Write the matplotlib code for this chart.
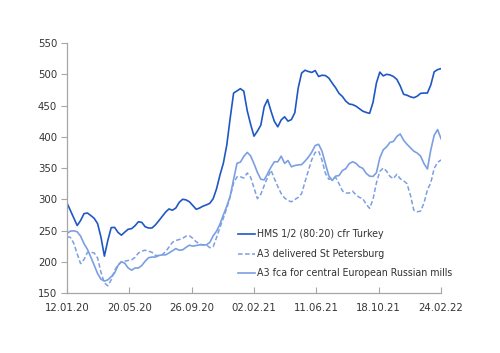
import pandas as pd
import matplotlib.pyplot as plt
import matplotlib.dates as mdates

# roughly weekly observations, 12.01.20 .. 24.02.22
dates = pd.date_range("2020-01-12", "2022-02-24", periods=111)

hms_turkey = [
    294, 282, 270, 258, 266, 277, 278, 274, 269.5, 261,
    239, 209, 234, 254.6, 255, 247, 242.5, 247.5, 252, 253,
    257.6, 264, 263, 256, 254, 254, 259, 265.6, 272.5, 279.5,
    284.5, 282.5, 286, 295, 300, 299, 296, 290, 284, 286,
    289, 291, 293.5, 301, 317, 339, 358, 387, 430, 470,
    473.5, 477, 473, 442, 420, 401, 409, 418.6, 448, 459.5,
    441, 424.5, 416, 427, 432, 425, 427.5, 438.5, 478, 502,
    506.5, 504.5, 503, 506, 496.5, 498.5, 498, 494, 486, 478.5,
    469.5, 464.5, 457, 452.5, 451.5, 449, 445, 441, 439, 437.5,
    455, 486, 503.5, 497.5, 500, 499, 496.5, 492, 481.5, 468,
    466.5, 464, 462.5, 465, 469.5, 470, 470, 483, 504, 507.5,
    509,
]

a3_st_petersburg = [
    240, 239, 229.5, 212.5, 197, 203.5, 215, 215.3, 214, 206,
    183, 166, 161.5, 171, 186, 195, 200, 201, 202, 203,
    207, 214, 217, 218.5, 217, 215, 210, 210, 211.5, 216,
    223.5, 231, 234, 235.5, 237.5, 241, 241.5, 237.5, 232, 228.5,
    227, 227, 222.5, 224, 239, 255, 270, 286, 304, 326,
    336, 336, 334, 342, 335.5, 318, 301, 308, 322, 335,
    346.5, 333, 320.5, 309, 302, 298, 296, 299.5, 303, 309,
    328, 346, 363.5, 375, 377, 362.5, 341.5, 332, 334, 335,
    325, 313.5, 310, 310, 313, 307, 303, 301, 292, 285.5,
    300, 326, 344.5, 350, 345, 336.5, 333, 340, 333, 329.5,
    325, 306.5, 282.5, 280, 281, 294, 315, 326.5, 349.5, 359,
    363,
]

a3_central = [
    245.5, 249, 249.5, 248, 241, 229, 220, 207.5, 194.5, 181,
    172, 169, 171, 176, 182, 194, 200, 197.5, 190, 186.5,
    190, 190, 194, 201, 206.5, 207.5, 207.5, 210, 211, 211,
    214, 217.5, 221, 218.5, 219, 223, 226.5, 225, 226, 227,
    227, 227, 231, 241.5, 249, 260.5, 275, 289, 305, 332,
    357.5, 359.5, 368.5, 375, 369.5, 357, 343, 332, 331, 341,
    351.5, 360, 360, 369, 357.5, 362, 352, 354, 355, 355.5,
    361, 367.5, 375.5, 386, 388, 377, 357, 337.5, 330, 337,
    338, 346, 349, 357, 360, 357.5, 352, 349.5, 341.5, 337,
    336.5, 342.5, 366, 379, 384, 391, 392.5, 400.5, 404.5, 394.5,
    388, 382.5, 377, 374, 369, 357, 348.5, 379, 402.5, 411.5,
    397,
]

tick_dates = ["2020-01-12", "2020-05-20", "2020-09-26", "2021-02-02",
              "2021-06-11", "2021-10-18", "2022-02-24"]

dark = "#1f58c4"
light = "#7b9fe2"

fig = plt.figure(figsize=(5, 3.53), dpi=100)
ax = fig.add_axes([0.134, 0.170, 0.748, 0.708])

ax.plot(dates, hms_turkey, color=dark, lw=1.2, label="HMS 1/2 (80:20) cfr Turkey")
ax.plot(dates, a3_st_petersburg, color=light, lw=1.1, ls=(0, (3, 1.6)),
        label="A3 delivered St Petersburg")
ax.plot(dates, a3_central, color=light, lw=1.2,
        label="A3 fca for central European Russian mills")

ax.set_ylim(150, 550)
ax.set_yticks(range(150, 551, 50))
ax.set_xlim(pd.Timestamp(tick_dates[0]), pd.Timestamp(tick_dates[-1]))
ax.set_xticks([pd.Timestamp(d) for d in tick_dates])
ax.xaxis.set_major_formatter(mdates.DateFormatter("%d.%m.%y"))

for s in ["top", "right"]:
    ax.spines[s].set_visible(False)
for s in ["left", "bottom"]:
    ax.spines[s].set_color("#a6a6a6")
    ax.spines[s].set_linewidth(0.9)

ax.tick_params(axis="y", direction="out", length=4, color="#a6a6a6",
               labelsize=7.3, labelcolor="#333333", pad=3)
ax.tick_params(axis="x", direction="in", length=4, color="#a6a6a6",
               labelsize=7.3, labelcolor="#333333", pad=7)

ax.legend(loc="upper left", bbox_to_anchor=(0.447, 0.27), frameon=False,
          fontsize=6.85, handlelength=1.8, handletextpad=0.15,
          labelspacing=1.0, labelcolor="#333333", borderaxespad=0)

fig.savefig("out.png", dpi=100)
